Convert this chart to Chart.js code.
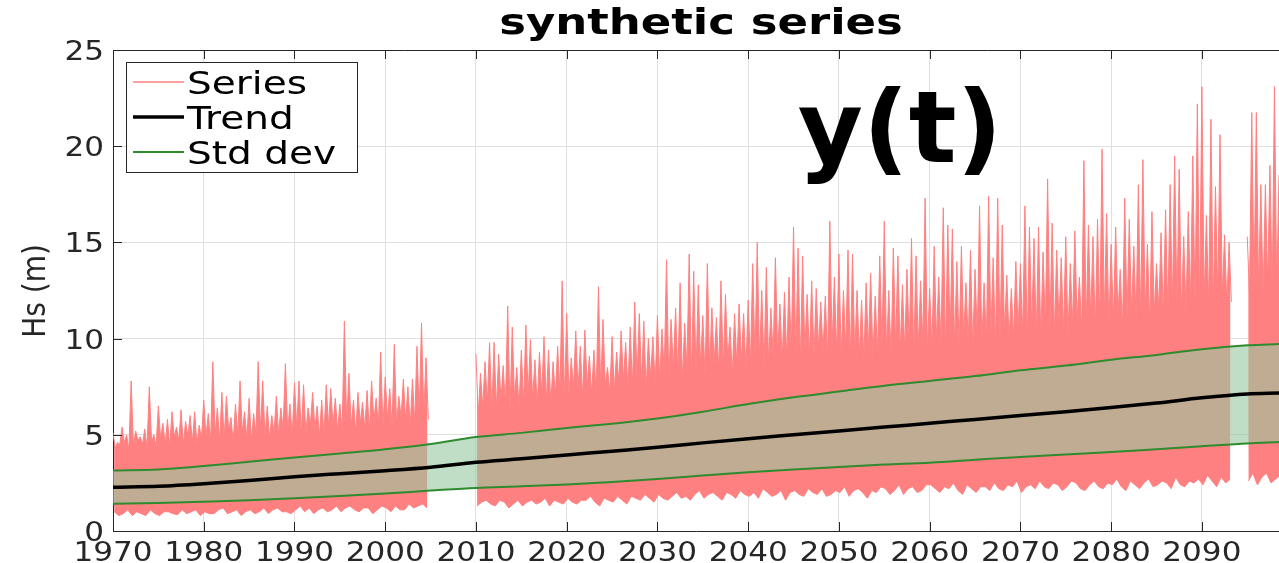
<!DOCTYPE html>
<html>
<head>
<meta charset="utf-8">
<script src="https://cdn.jsdelivr.net/npm/chart.js@4.4.1/dist/chart.umd.min.js"></script>
<style>
  html, body { margin: 0; padding: 0; background: #fff; }
  #wrap { width: 1279px; height: 563px; }
</style>
</head>
<body>
<div id="wrap"><canvas id="c" width="1279" height="563"></canvas></div>
<script>
// ---- data ----
// series is sampled in half-year bins from seriesStart: spike tip, top of the dense core, bottom edge
const seriesStart = 1970;
const seriesPeaks = [
  5.1, 4.6, 5.4, 5.0, 7.8, 5.2, 4.9, 5.3, 7.5, 5.0,        // 1970-1974
  6.5, 5.6, 5.8, 6.2, 5.4, 6.3, 5.7, 6.0, 6.2, 5.5,        // 1975-1979
  6.8, 6.1, 8.8, 6.4, 7.2, 7.0, 5.9, 6.6, 7.8, 6.2,        // 1980-1984
  6.9, 6.1, 8.8, 7.8, 6.5, 6.0, 7.0, 6.4, 8.7, 6.6,        // 1985-1989
  7.7, 7.8, 7.6, 6.4, 7.2, 6.5, 6.8, 7.6, 7.4, 6.9,        // 1990-1994
  6.6, 10.9, 8.2, 6.8, 7.2, 6.7, 7.3, 7.8, 6.9, 9.3,       // 1995-1999
  8.0, 7.4, 9.7, 7.0, 7.9, 7.5, 7.9, 9.6, 10.8, 9.0,       // 2000-2004
  null, null, null, null, null, null, null, null, null, null, // 2005-2009
  9.2, 8.2, 8.8, 9.8, 9.8, 9.2, 8.6, 11.7, 10.6, 8.5,      // 2010-2014
  9.4, 10.7, 9.95, 8.9, 9.3, 10.1, 9.4, 8.8, 9.6, 13.0,    // 2015-2019
  11.3, 9.0, 10.4, 9.6, 10.45, 9.1, 9.4, 12.7, 11.0, 8.5,  // 2020-2024
  10.1, 9.3, 10.4, 9.8, 10.6, 11.9, 11.3, 10.9, 10.0, 10.1, // 2025-2029
  11.2, 10.5, 14.1, 11.0, 11.6, 12.9, 10.8, 14.4, 13.5, 12.8, // 2030-2034
  11.2, 13.9, 11.6, 11.1, 13.0, 12.3, 10.6, 11.3, 11.8, 11.3, // 2035-2039
  12.0, 13.9, 15.0, 12.5, 13.7, 11.6, 14.2, 11.8, 12.4, 13.2, // 2040-2044
  15.8, 14.7, 14.3, 12.3, 13.0, 12.6, 11.9, 12.2, 16.1, 13.2, // 2045-2049
  14.4, 12.5, 14.6, 14.4, 12.5, 12.0, 12.9, 13.4, 12.2, 14.3, // 2050-2054
  16.1, 12.5, 14.7, 14.3, 12.8, 13.6, 15.2, 14.3, 13.0, 17.3, // 2055-2059
  12.6, 14.8, 13.2, 16.8, 15.9, 15.7, 14.0, 14.8, 12.9, 14.6, // 2060-2064
  13.6, 16.9, 12.9, 17.4, 14.2, 17.3, 15.9, 13.3, 12.6, 14.0, // 2065-2069
  13.9, 16.9, 15.8, 15.2, 15.8, 14.5, 18.3, 16.0, 14.6, 14.2, // 2070-2074
  15.3, 13.9, 15.6, 13.2, 19.25, 15.9, 15.3, 16.2, 19.85, 16.5, // 2075-2079
  14.9, 15.8, 13.6, 17.3, 16.2, 14.8, 18.0, 19.3, 14.9, 16.6, // 2080-2084
  13.9, 15.5, 16.7, 18.0, 19.5, 18.8, 15.3, 16.6, 19.5, 22.2, // 2085-2089
  23.1, 16.4, 21.4, 17.9, 20.6, 15.4, 15.0, null, null, null, // 2090-2094
  15.3, 21.75, 21.75, 18.0, 18.0, 19.0, 23.1, 18.5           // 2095-2098
];
const seriesFloors = [
  4.3, 4.5, 4.6, 4.2, 4.4, 4.7, 4.5, 4.3, 4.6, 4.4,
  4.8, 4.5, 4.4, 4.9, 4.7, 4.5, 4.9, 4.6, 4.5, 4.8,
  4.9, 4.6, 5.0, 4.7, 4.8, 5.2, 4.6, 4.9, 5.1, 4.8,
  4.7, 5.0, 5.2, 4.9, 4.8, 5.1, 5.0, 5.3, 5.2, 4.9,
  5.4, 5.0, 5.1, 5.5, 5.3, 4.9, 5.0, 5.4, 5.5, 5.2,
  5.2, 5.6, 5.4, 5.1, 5.6, 5.3, 5.2, 5.7, 5.5, 5.3,
  5.8, 5.4, 5.5, 5.9, 5.7, 5.4, 5.6, 6.0, 6.1, 5.8,
  null, null, null, null, null, null, null, null, null, null,
  6.0, 6.4, 6.6, 6.2, 6.3, 6.8, 6.5, 6.2, 6.9, 6.4,
  6.6, 7.0, 6.8, 6.5, 7.1, 6.7, 6.6, 7.0, 7.2, 6.8,
  7.0, 7.4, 7.3, 6.9, 7.5, 7.1, 7.0, 7.4, 7.6, 7.2,
  7.3, 7.7, 7.8, 7.4, 7.5, 7.9, 7.7, 7.3, 8.0, 7.6,
  7.8, 8.2, 7.9, 8.4, 8.1, 7.8, 8.5, 8.0, 8.2, 8.6,
  8.0, 8.4, 8.7, 8.3, 8.4, 8.8, 8.1, 8.6, 8.8, 8.4,
  8.6, 9.0, 8.9, 8.5, 8.7, 9.1, 9.2, 8.8, 8.9, 9.3,
  9.1, 8.7, 9.4, 9.0, 9.0, 9.5, 9.3, 8.9, 9.6, 9.2,
  9.0, 9.4, 8.8, 9.2, 9.1, 8.9, 9.4, 9.0, 9.2, 9.6,
  9.3, 9.0, 9.6, 9.2, 9.4, 9.7, 9.1, 9.5, 9.8, 9.4,
  9.5, 9.9, 9.7, 9.3, 10.0, 9.6, 9.5, 10.0, 9.8, 9.4,
  10.1, 9.7, 9.8, 10.2, 9.6, 10.0, 10.3, 9.9, 10.0, 10.4,
  10.2, 9.8, 10.5, 10.1, 10.0, 10.6, 10.4, 10.2, 10.8, 10.3,
  10.2, 10.7, 10.9, 10.4, 10.6, 11.0, 10.3, 10.8, 11.1, 10.6,
  10.8, 11.2, 10.5, 11.0, 11.3, 10.9, 11.0, 11.4, 10.7, 11.2,
  11.5, 11.1, 11.2, 11.6, 11.8, 11.3, 11.4, 11.9, 11.7, 11.4,
  12.0, 11.6, 11.6, 12.1, 12.2, 11.8, 11.9, null, null, null,
  12.3, 12.7, 12.5, 12.1, 12.8, 12.4, 12.6, 12.9
];
const seriesTroughs = [
  1.0, 0.8, 0.9, 1.1, 0.8, 1.0, 0.9, 0.8, 1.1, 0.9,
  0.8, 1.0, 1.0, 0.9, 0.85, 1.1, 0.9, 1.0, 1.1, 0.8,
  1.0, 0.9, 0.9, 1.1, 1.2, 0.9, 1.0, 1.1, 0.8, 1.0,
  1.1, 0.9, 1.0, 1.2, 0.9, 1.1, 1.2, 1.0, 1.0, 0.9,
  1.1, 1.3, 1.0, 1.2, 0.9, 1.1, 1.2, 1.0, 1.1, 1.3,
  1.0, 1.2, 1.3, 1.1, 1.0, 1.2, 1.2, 0.9, 1.1, 1.3,
  1.2, 1.0, 1.3, 1.1, 1.1, 1.4, 1.2, 1.3, 1.4, 1.2,
  null, null, null, null, null, null, null, null, null, null,
  1.3, 1.5, 1.6, 1.4, 1.3, 1.6, 1.5, 1.2, 1.4, 1.6,
  1.3, 1.5, 1.6, 1.4, 1.5, 1.7, 1.3, 1.6, 1.5, 1.4,
  1.7, 1.5, 1.4, 1.6, 1.6, 1.8, 1.5, 1.3, 1.7, 1.6,
  1.5, 1.8, 1.6, 1.4, 1.8, 1.7, 1.6, 1.9, 1.7, 1.5,
  1.9, 1.7, 1.6, 1.8, 2.0, 1.7, 1.8, 1.6, 1.9, 2.1,
  1.7, 1.9, 2.0, 1.8, 1.6, 2.0, 1.9, 1.7, 2.1, 1.9,
  1.8, 2.0, 1.7, 2.2, 2.0, 1.8, 1.9, 2.1, 1.6, 2.0,
  2.1, 1.9, 1.8, 2.2, 2.0, 1.9, 2.2, 1.8, 1.9, 2.1,
  2.0, 2.3, 1.8, 2.1, 2.2, 2.0, 1.7, 2.1, 2.0, 2.3,
  2.2, 1.9, 2.1, 2.4, 1.9, 2.2, 2.3, 2.0, 2.1, 2.4,
  2.4, 2.2, 2.0, 2.3, 2.2, 2.5, 2.1, 1.9, 2.4, 2.2,
  2.0, 2.3, 2.3, 2.1, 2.5, 2.2, 2.1, 2.4, 2.3, 2.6,
  2.0, 2.3, 2.4, 2.2, 2.6, 2.3, 2.2, 2.5, 2.4, 2.1,
  2.3, 2.6, 2.5, 2.2, 2.1, 2.4, 2.6, 2.3, 2.2, 2.5,
  2.4, 2.7, 2.3, 2.1, 2.6, 2.4, 2.2, 2.5, 2.7, 2.3,
  2.4, 2.6, 2.5, 2.2, 2.8, 2.4, 2.3, 2.6, 2.5, 2.7,
  2.4, 2.9, 2.6, 2.3, 2.8, 2.5, 2.7, null, null, null,
  2.6, 3.0, 2.4, 2.8, 3.0, 2.5, 2.7, 2.9
];

const trendYears = [1970, 1975, 1980, 1985, 1990, 1995, 2000, 2005, 2010, 2015, 2020, 2025, 2030, 2035,
  2040, 2045, 2050, 2055, 2060, 2065, 2070, 2075, 2080, 2085, 2090, 2095, 2098.5];
const trendValues = [2.27, 2.32, 2.45, 2.62, 2.82, 2.98, 3.13, 3.31, 3.57, 3.75, 3.95, 4.15, 4.35, 4.58,
  4.8, 5.0, 5.2, 5.4, 5.6, 5.8, 6.0, 6.2, 6.42, 6.65, 6.92, 7.12, 7.17];
const stdUpper = [3.15, 3.2, 3.38, 3.6, 3.82, 4.03, 4.25, 4.52, 4.88, 5.1, 5.35, 5.58, 5.85, 6.2,
  6.6, 6.95, 7.25, 7.55, 7.8, 8.05, 8.35, 8.6, 8.9, 9.15, 9.45, 9.65, 9.72];
const stdLower = [1.42, 1.45, 1.52, 1.6, 1.7, 1.82, 1.95, 2.1, 2.24, 2.32, 2.42, 2.55, 2.7, 2.88,
  3.05, 3.2, 3.33, 3.45, 3.55, 3.7, 3.85, 3.98, 4.1, 4.25, 4.4, 4.55, 4.62];

const xTicks = [1970, 1980, 1990, 2000, 2010, 2020, 2030, 2040, 2050, 2060, 2070, 2080, 2090];
const yTicks = [0, 5, 10, 15, 20, 25];

// ---- styles ----
const PINK = '#ff8080';
const GREEN = '#2e8b2e';
const BAND = 'rgba(150,200,160,0.6)';
const AXIS = '#262626';
const GRID = '#dfdfdf';
const FONT = '"DejaVu Sans", "Liberation Sans", sans-serif';

// top edge zig-zags between spike tip and core level, bottom edge follows the troughs
const topEdge = [];
const bottomEdge = [];
seriesPeaks.forEach((p, i) => {
  const t = seriesStart + i * 0.5;
  topEdge.push({ x: t, y: p }, { x: t + 0.25, y: seriesFloors[i] });
  bottomEdge.push({ x: t + 0.125, y: seriesTroughs[i] });
});
const pts = vals => trendYears.map((yr, i) => ({ x: yr, y: vals[i] }));

// the reference text is stretched sideways
function stretchText(ctx, text, x, y, align, sx) {
  ctx.save();
  ctx.translate(x, y);
  ctx.scale(sx, 1);
  ctx.textAlign = align;
  ctx.fillText(text, 0, 0);
  ctx.restore();
}

const decor = {
  id: 'decor',
  afterDraw(chart) {
    const { ctx, chartArea: a, scales: { x, y } } = chart;
    ctx.save();
    // box line on top + inside ticks
    ctx.strokeStyle = AXIS;
    ctx.lineWidth = 1;
    ctx.beginPath();
    ctx.moveTo(a.left, a.top + 0.5); ctx.lineTo(a.right, a.top + 0.5);
    xTicks.forEach(v => {
      const px = Math.round(x.getPixelForValue(v)) + 0.5;
      ctx.moveTo(px, a.bottom); ctx.lineTo(px, a.bottom - 9);
      ctx.moveTo(px, a.top); ctx.lineTo(px, a.top + 9);
    });
    yTicks.forEach(v => {
      const py = Math.round(y.getPixelForValue(v)) + 0.5;
      ctx.moveTo(a.left, py); ctx.lineTo(a.left + 9, py);
    });
    ctx.stroke();

    // tick labels
    ctx.fillStyle = AXIS;
    ctx.font = '27px ' + FONT;
    ctx.textBaseline = 'alphabetic';
    xTicks.forEach(v => stretchText(ctx, String(v), x.getPixelForValue(v), 561, 'center', 1.15));
    yTicks.forEach(v => stretchText(ctx, String(v), a.left - 9, y.getPixelForValue(v) + 10, 'right', 1.15));

    // y axis title
    ctx.save();
    ctx.translate(37, 291);
    ctx.rotate(-Math.PI / 2);
    ctx.scale(1, 1.15);
    ctx.textAlign = 'center';
    ctx.textBaseline = 'middle';
    ctx.font = '28px ' + FONT;
    ctx.fillText('Hs (m)', 0, 0);
    ctx.restore();

    // title
    ctx.fillStyle = '#000';
    ctx.font = 'bold 36px ' + FONT;
    stretchText(ctx, 'synthetic series', 701, 34, 'center', 1.25);

    // annotation
    ctx.font = 'bold 100px ' + FONT;
    ctx.textAlign = 'center';
    ctx.fillText('y(t)', 900, 162);

    // legend
    const lx = 126.5, ly = 62.5, lw = 231, lh = 110;
    ctx.fillStyle = '#fff';
    ctx.fillRect(lx, ly, lw, lh);
    ctx.strokeStyle = AXIS;
    ctx.strokeRect(lx, ly, lw, lh);
    const items = [
      { ds: chart.data.datasets[0], yc: 82 },
      { ds: chart.data.datasets[4], yc: 117 },
      { ds: chart.data.datasets[2], yc: 152 }
    ];
    ctx.font = '32px ' + FONT;
    items.forEach(it => {
      ctx.strokeStyle = it.ds.borderColor;
      ctx.lineWidth = it.ds.label === 'Series' ? 1.5 : it.ds.borderWidth;
      ctx.beginPath();
      ctx.moveTo(133, it.yc); ctx.lineTo(184, it.yc);
      ctx.stroke();
      ctx.fillStyle = '#000';
      stretchText(ctx, it.ds.label, 187, it.yc + 12, 'left', 1.22);
    });
    ctx.restore();
  }
};

new Chart(document.getElementById('c'), {
  type: 'line',
  data: {
    datasets: [
      { label: 'Series', data: topEdge, borderColor: PINK, backgroundColor: PINK, borderWidth: 1,
        fill: { target: '+1', above: PINK, below: PINK }, order: 4, borderJoinStyle: 'bevel' },
      { label: 'Series low', data: bottomEdge, borderColor: PINK, borderWidth: 1, fill: false, order: 3 },
      { label: 'Std dev', data: pts(stdUpper), borderColor: GREEN, borderWidth: 2,
        fill: { target: '+1', above: BAND, below: BAND }, order: 2, cubicInterpolationMode: 'monotone' },
      { label: 'Std dev low', data: pts(stdLower), borderColor: GREEN, borderWidth: 2, fill: false, order: 1,
        cubicInterpolationMode: 'monotone' },
      { label: 'Trend', data: pts(trendValues), borderColor: '#000', borderWidth: 3.5, fill: false, order: 0,
        cubicInterpolationMode: 'monotone' }
    ]
  },
  options: {
    responsive: false,
    animation: false,
    devicePixelRatio: 1,
    layout: { padding: { top: 50, left: 0, right: 0, bottom: 0 } },
    elements: { point: { radius: 0 } },
    plugins: { legend: { display: false }, tooltip: { enabled: false } },
    scales: {
      x: {
        type: 'linear', min: 1970, max: 2098.5,
        afterBuildTicks: s => { s.ticks = xTicks.map(v => ({ value: v })); },
        afterFit: s => { s.height = 32; },
        ticks: { display: false },
        grid: { color: GRID, drawTicks: false },
        border: { color: AXIS }
      },
      y: {
        type: 'linear', min: 0, max: 25,
        afterBuildTicks: s => { s.ticks = yTicks.map(v => ({ value: v })); },
        afterFit: s => { s.width = 113; },
        ticks: { display: false },
        grid: { color: GRID, drawTicks: false },
        border: { color: AXIS }
      }
    }
  },
  plugins: [decor]
});
</script>
</body>
</html>
